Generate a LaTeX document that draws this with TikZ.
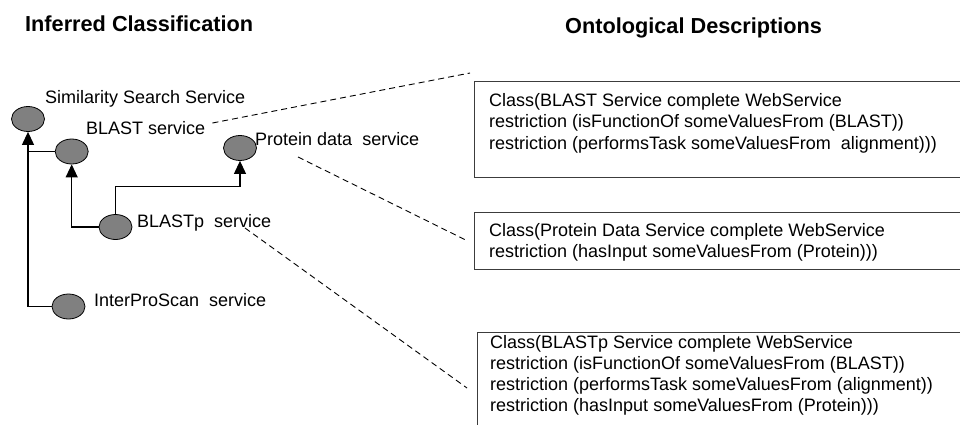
\documentclass[tikz,border=0pt]{standalone}
\usepackage{fontspec}
\setmainfont{Liberation Sans}
\usetikzlibrary{arrows.meta,calc,shapes.geometric}
\definecolor{nodegray}{RGB}{128,128,128}
\definecolor{boxline}{RGB}{60,60,60}
\begin{document}
\begin{tikzpicture}[x=1pt,y=-1pt,
  cls/.style={ellipse,draw=black,line width=0.8pt,fill=nodegray,
    minimum width=33pt,minimum height=25pt,inner sep=0pt},
  lbl/.style={anchor=base west,inner sep=0pt,font=\fontsize{18}{21.6}\selectfont},
  ttl/.style={anchor=base west,inner sep=0pt,font=\fontsize{21.7}{26}\selectfont\bfseries},
  descbox/.style={draw=boxline,line width=1.3pt,anchor=north west,
    minimum width=520pt,inner sep=0pt},
  desctext/.style={anchor=north west,inner sep=0pt,align=left,
    font=\fontsize{18}{21.2}\selectfont},
  tree/.style={line width=1.1pt,draw=black},
  arr/.style={tree,-{Triangle[width=12pt,length=13pt]}},
  refline/.style={line width=0.9pt,dash pattern=on 6pt off 4pt}]
\useasboundingbox (0,0) rectangle (960,425);
\clip (0,0) rectangle (960,425);

% headings
\node[ttl] (hleft) at (25,32) {Inferred Classification};
\node[ttl] (hright) at (565,34) {Ontological Descriptions};

% class hierarchy
\node[cls] (sim) at (28,119) {};
\node[cls] (blast) at (71.7,151.5) {};
\node[cls] (prot) at (240,148) {};
\node[cls] (blastp) at (115.5,227) {};
\node[cls] (ips) at (68.5,306.5) {};

\node[lbl] (lsim) at (45,103) {Similarity Search Service};
\node[lbl] (lblast) at (86,134) {BLAST service};
\node[lbl] (lprot) at (255,145) {Protein data~ service};
\node[lbl] (lblastp) at (137,227.5) {BLASTp~ service};
\node[lbl] (lips) at (94,306) {InterProScan~ service};

% subclass links
\draw[arr] (ips.west) -| (sim.south);
\draw[tree] (blast.west) -- (blast.west -| sim.south);
\draw[arr] (blastp.west) -| (blast.south);
\draw[arr] (blastp.north) -- ++(0,-28) -| (prot.south);

% class descriptions
\node[descbox,minimum height=96pt] (d1) at (474,81) {};
\node[descbox,minimum height=57pt] (d2) at (474,212) {};
\node[descbox,minimum height=120pt] (d3) at (477,332) {};

\node[desctext] (t1) at (489,93.5) {Class(BLAST Service complete WebService\\
restriction (isFunctionOf someValuesFrom (BLAST))\\
restriction (performsTask someValuesFrom~ alignment)))};
\node[desctext] (t2) at (489,223.1) {Class(Protein Data Service complete WebService\\
restriction (hasInput someValuesFrom (Protein)))};
\node[desctext] (t3) at (490,335) {Class(BLASTp Service complete WebService\\
restriction (isFunctionOf someValuesFrom (BLAST))\\
restriction (performsTask someValuesFrom (alignment))\\
restriction (hasInput someValuesFrom (Protein)))};

% links from classes to their descriptions
\draw[refline] ($(lblast.base east)+(7,-11)$) -- ($(d1.north west)+(-4,-8)$);
\draw[refline] ($(lprot.base west)+(43,12)$) -- ($(d2.west)+(-6,0)$);
\draw[refline] ($(lblastp.base west)+(108,0.5)$) -- ($(d3.north west)+(-10,56)$);
\end{tikzpicture}
\end{document}
